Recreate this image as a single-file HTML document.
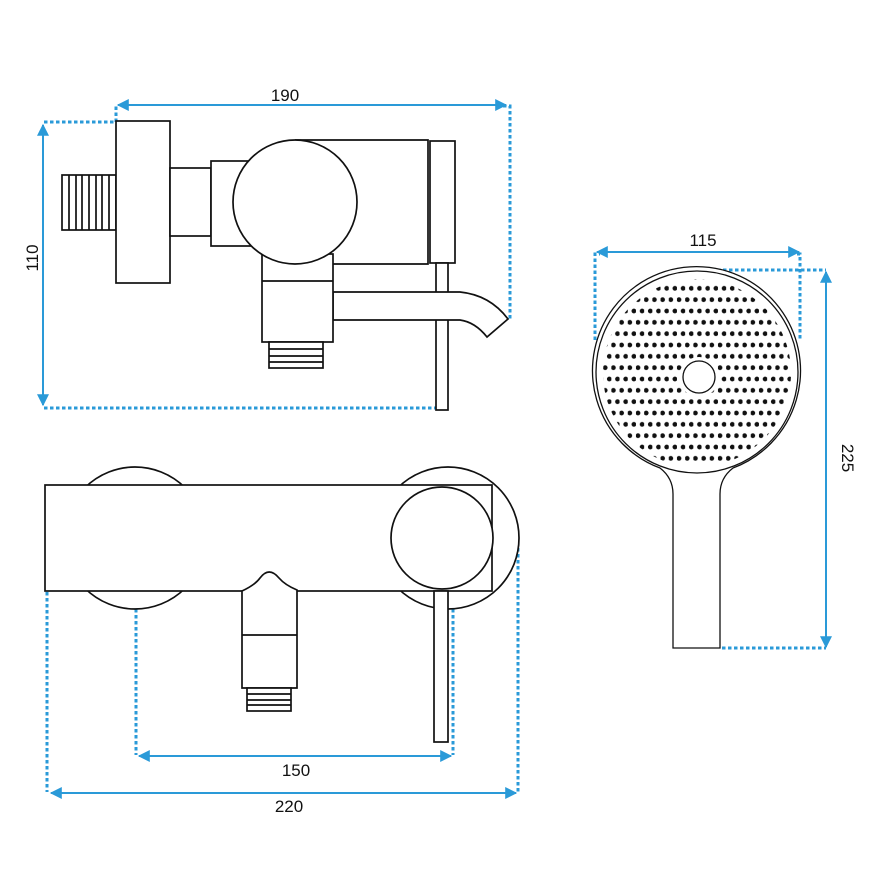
<!DOCTYPE html>
<html><head><meta charset="utf-8"><style>html,body{margin:0;padding:0;background:#fff}svg{display:block}</style></head>
<body>
<svg width="870" height="870" viewBox="0 0 870 870" xmlns="http://www.w3.org/2000/svg">
<defs>
<marker id="ah2" viewBox="0 0 10 10" refX="9" refY="5" markerWidth="14" markerHeight="12" orient="auto-start-reverse" markerUnits="userSpaceOnUse"><path d="M0,0 L10,5 L0,10 z" fill="#2a9ad8"/></marker>
<pattern id="dp" patternUnits="userSpaceOnUse" x="594.95" y="285.33" width="8.2" height="22.67">
<circle cx="6.15" cy="3" r="2.4" fill="#111"/>
<circle cx="2.05" cy="14.33" r="2.4" fill="#111"/>
</pattern>
<clipPath id="hc"><circle cx="697" cy="373" r="94"/></clipPath>
</defs>
<g fill="none" stroke="#2a9ad8" stroke-width="3" stroke-dasharray="3.5 2.5">
<polyline points="44,122 116,122 116,104"/>
<polyline points="503,106 510,106 510,320"/>
<line x1="44" y1="408" x2="436" y2="408"/>
<line x1="47" y1="592" x2="47" y2="792"/>
<line x1="136" y1="537" x2="136" y2="755"/>
<line x1="453" y1="537" x2="453" y2="755"/>
<line x1="518" y1="542" x2="518" y2="794"/>
<polyline points="595,340 595,254 600,254"/>
<polyline points="797,254 800,254 800,340"/>
<polyline points="717,270 826,270"/>
<line x1="722" y1="648" x2="826" y2="648"/>
</g>
<g stroke="#2a9ad8" stroke-width="2" fill="none">
<line x1="118" y1="105" x2="506" y2="105" marker-start="url(#ah2)" marker-end="url(#ah2)"/>
<line x1="43" y1="125" x2="43" y2="405" marker-start="url(#ah2)" marker-end="url(#ah2)"/>
<line x1="139" y1="756" x2="451" y2="756" marker-start="url(#ah2)" marker-end="url(#ah2)"/>
<line x1="51" y1="793" x2="516" y2="793" marker-start="url(#ah2)" marker-end="url(#ah2)"/>
<line x1="597" y1="252" x2="799" y2="252" marker-start="url(#ah2)" marker-end="url(#ah2)"/>
<line x1="826" y1="272" x2="826" y2="647" marker-start="url(#ah2)" marker-end="url(#ah2)"/>
</g>
<g font-family="Liberation Sans, sans-serif" font-size="17" fill="#111" text-anchor="middle">
<text x="285" y="101">190</text>
<text x="296" y="776">150</text>
<text x="289" y="812">220</text>
<text x="703" y="246">115</text>
<text transform="translate(38,258) rotate(-90)">110</text>
<text transform="translate(842,458) rotate(90)">225</text>
</g>
<g fill="#fff" stroke="#111" stroke-width="1.7">
<rect x="62" y="175" width="54" height="55"/>
<path d="M69,175V230M76,175V230M82,175V230M89,175V230M96,175V230M102,175V230M109,175V230" fill="none"/>
<rect x="116" y="121" width="54" height="162"/>
<rect x="170" y="168" width="41" height="68"/>
<rect x="211" y="161" width="40" height="85"/>
<path d="M295,140 H428 V264 H333"/>
<rect x="430" y="141" width="25" height="122"/>
<rect x="436" y="263" width="12" height="147"/>
<path d="M333,292 H460 Q490,295 508,319 L487,337 Q475,322 460,320 H333 Z"/>
<rect x="262" y="254" width="71" height="88"/>
<line x1="262" y1="281" x2="333" y2="281"/>
<circle cx="295" cy="202" r="62"/>
<rect x="269" y="342" width="54" height="26"/>
<path d="M269,349H323M269,356H323M269,362H323" fill="none"/>
</g>
<g fill="#fff" stroke="#111" stroke-width="1.7">
<circle cx="135" cy="538" r="71"/>
<circle cx="448" cy="538" r="71"/>
<rect x="45" y="485" width="447" height="106"/>
<circle cx="442" cy="538" r="51"/>
<rect x="434" y="591" width="14" height="151"/>
<path d="M242,688 V591 Q255,585 260,578 Q269,566 279,578 Q285,585 297,590 V688 Z"/>
<line x1="242" y1="635" x2="297" y2="635"/>
<rect x="247" y="688" width="44" height="23"/>
<path d="M247,694H291M247,700H291M247,705H291" fill="none"/>
</g>
<g fill="#fff" stroke="#111" stroke-width="1.3">
<path d="M673,648 V494 Q673,478 660,468 A104,104 0 1 1 733,468 Q720,478 720,494 V648 Z"/>
<circle cx="697" cy="372" r="101"/>
</g>
<rect x="590" y="270" width="215" height="210" fill="url(#dp)" clip-path="url(#hc)"/>
<circle cx="699" cy="377" r="20" fill="#fff"/>
<circle cx="699" cy="377" r="16" fill="#fff" stroke="#111" stroke-width="1.3"/>
</svg>
</body></html>
